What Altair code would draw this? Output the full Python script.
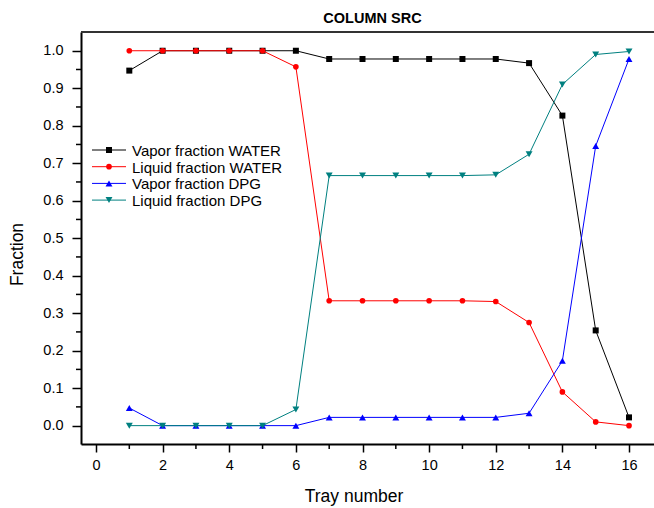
import altair as alt
import pandas as pd

trays = list(range(1, 17))
vapor_water = [0.947, 1.0, 1.0, 1.0, 1.0, 1.0, 0.978, 0.978, 0.978, 0.978, 0.978, 0.978, 0.967, 0.827, 0.254, 0.022]
liquid_water = [1.0, 1.0, 1.0, 1.0, 1.0, 0.957, 0.333, 0.333, 0.333, 0.333, 0.333, 0.331, 0.275, 0.090, 0.010, 0.0]
vapor_dpg = [0.047, 0.0, 0.0, 0.0, 0.0, 0.0, 0.022, 0.022, 0.022, 0.022, 0.022, 0.022, 0.033, 0.173, 0.746, 0.978]
liquid_dpg = [0.0, 0.0, 0.0, 0.0, 0.0, 0.043, 0.667, 0.667, 0.667, 0.667, 0.667, 0.669, 0.724, 0.910, 0.990, 0.998]

series_names = ["Vapor fraction WATER", "Liquid fraction WATER", "Vapor fraction DPG", "Liquid fraction DPG"]
series_values = [vapor_water, liquid_water, vapor_dpg, liquid_dpg]
series_colors = ["#000000", "#ff0000", "#0000ff", "#008080"]
series_shapes = ["square", "circle", "triangle-up", "triangle-down"]
series_sizes = [36, 32, 48, 48]

x_major = [0, 2, 4, 6, 8, 10, 12, 14, 16]
x_minor = [1, 3, 5, 7, 9, 11, 13, 15]
y_major = [0.0, 0.1, 0.2, 0.3, 0.4, 0.5, 0.6, 0.7, 0.8, 0.9, 1.0]
y_minor = [0.05, 0.15, 0.25, 0.35, 0.45, 0.55, 0.65, 0.75, 0.85, 0.95]
chart_title = "COLUMN SRC"

W, H = 573, 412
FONT = "Liberation Sans"

xscale = alt.Scale(domain=[-0.45, 16.75], nice=False, zero=False)
yscale = alt.Scale(domain=[-0.049, 1.05], nice=False, zero=False)

xaxis = alt.Axis(values=x_major, format="d", grid=False, tickSize=8, tickWidth=1.5, tickColor="#000",
                 domainColor="#000", domainWidth=2, labelFontSize=14.5, labelFont=FONT, labelColor="#000",
                 labelPadding=6, title="Tray number", titleFont=FONT, titleFontSize=17.5,
                 titleFontWeight="normal", titleColor="#000", titleX=W / 2 - 14, titleY=57,
                 titleBaseline="alphabetic", titleAlign="center")
yaxis = alt.Axis(values=y_major, format=".1f", grid=False, tickSize=9, tickWidth=1.5, tickColor="#000",
                 domainColor="#000", domainWidth=2, labelFontSize=14.5, labelFont=FONT, labelColor="#000",
                 labelPadding=9, title="Fraction", titleFont=FONT, titleFontSize=17.5,
                 titleFontWeight="normal", titleColor="#000", titleX=-59, titleY=222,
                 titleAngle=-90, titleBaseline="alphabetic", titleAlign="center")

rows = []
for name, vals in zip(series_names, series_values):
    for t, v in zip(trays, vals):
        rows.append({"series": name, "tray": t, "value": v})
df = pd.DataFrame(rows)

X = alt.X("tray:Q", scale=xscale, axis=xaxis)
Y = alt.Y("value:Q", scale=yscale, axis=yaxis)

layers = []
for name, color, shape, size in zip(series_names, series_colors, series_shapes, series_sizes):
    base = alt.Chart(df).transform_filter(alt.datum.series == name)
    layers.append(base.mark_line(color=color, strokeWidth=1).encode(x=X, y=Y))
    layers.append(base.mark_point(color=color, shape=shape, filled=True, size=size, opacity=1).encode(x=X, y=Y))

# minor ticks
xminor_df = pd.DataFrame({"tray": x_minor})
yminor_df = pd.DataFrame({"value": y_minor})
layers.append(alt.Chart(xminor_df).mark_rule(color="#000", strokeWidth=1.5).encode(
    x=X, y=alt.value(H), y2=alt.value(H + 5)))
layers.append(alt.Chart(yminor_df).mark_rule(color="#000", strokeWidth=1.5).encode(
    y=Y, x=alt.value(-5), x2=alt.value(0)))

# top frame line and title
one = pd.DataFrame({"title": [chart_title]})
layers.append(alt.Chart(one).mark_rule(color="#333", strokeWidth=2).encode(
    x=alt.value(0), x2=alt.value(W), y=alt.value(0)))
layers.append(alt.Chart(one).mark_text(align="center", baseline="alphabetic", font=FONT, fontSize=14.5,
                                       fontWeight="bold", color="#000").encode(
    x=alt.value(W / 2 + 5), y=alt.value(-9), text="title:N"))

# custom legend
for i, (name, color, shape, size) in enumerate(zip(series_names, series_colors, series_shapes, series_sizes)):
    ly = 118 + 16.7 * i
    ld = pd.DataFrame({"label": [name]})
    layers.append(alt.Chart(ld).mark_rule(color=color, strokeWidth=1).encode(
        x=alt.value(11), x2=alt.value(45), y=alt.value(ly)))
    layers.append(alt.Chart(ld).mark_point(color=color, shape=shape, filled=True, size=size, opacity=1).encode(
        x=alt.value(28), y=alt.value(ly)))
    layers.append(alt.Chart(ld).mark_text(align="left", baseline="middle", font=FONT, fontSize=15,
                                          color="#000").encode(
        x=alt.value(51), y=alt.value(ly + 1), text="label:N"))

chart = alt.layer(*layers).properties(
    width=W, height=H,
    autosize=alt.AutoSizeParams(type="none"),
    padding={"left": 81, "top": 32, "right": 0, "bottom": 64},
).configure_view(stroke=None).configure(background="white")

chart.save("out.html", embed_options={"renderer": "svg", "actions": False})
